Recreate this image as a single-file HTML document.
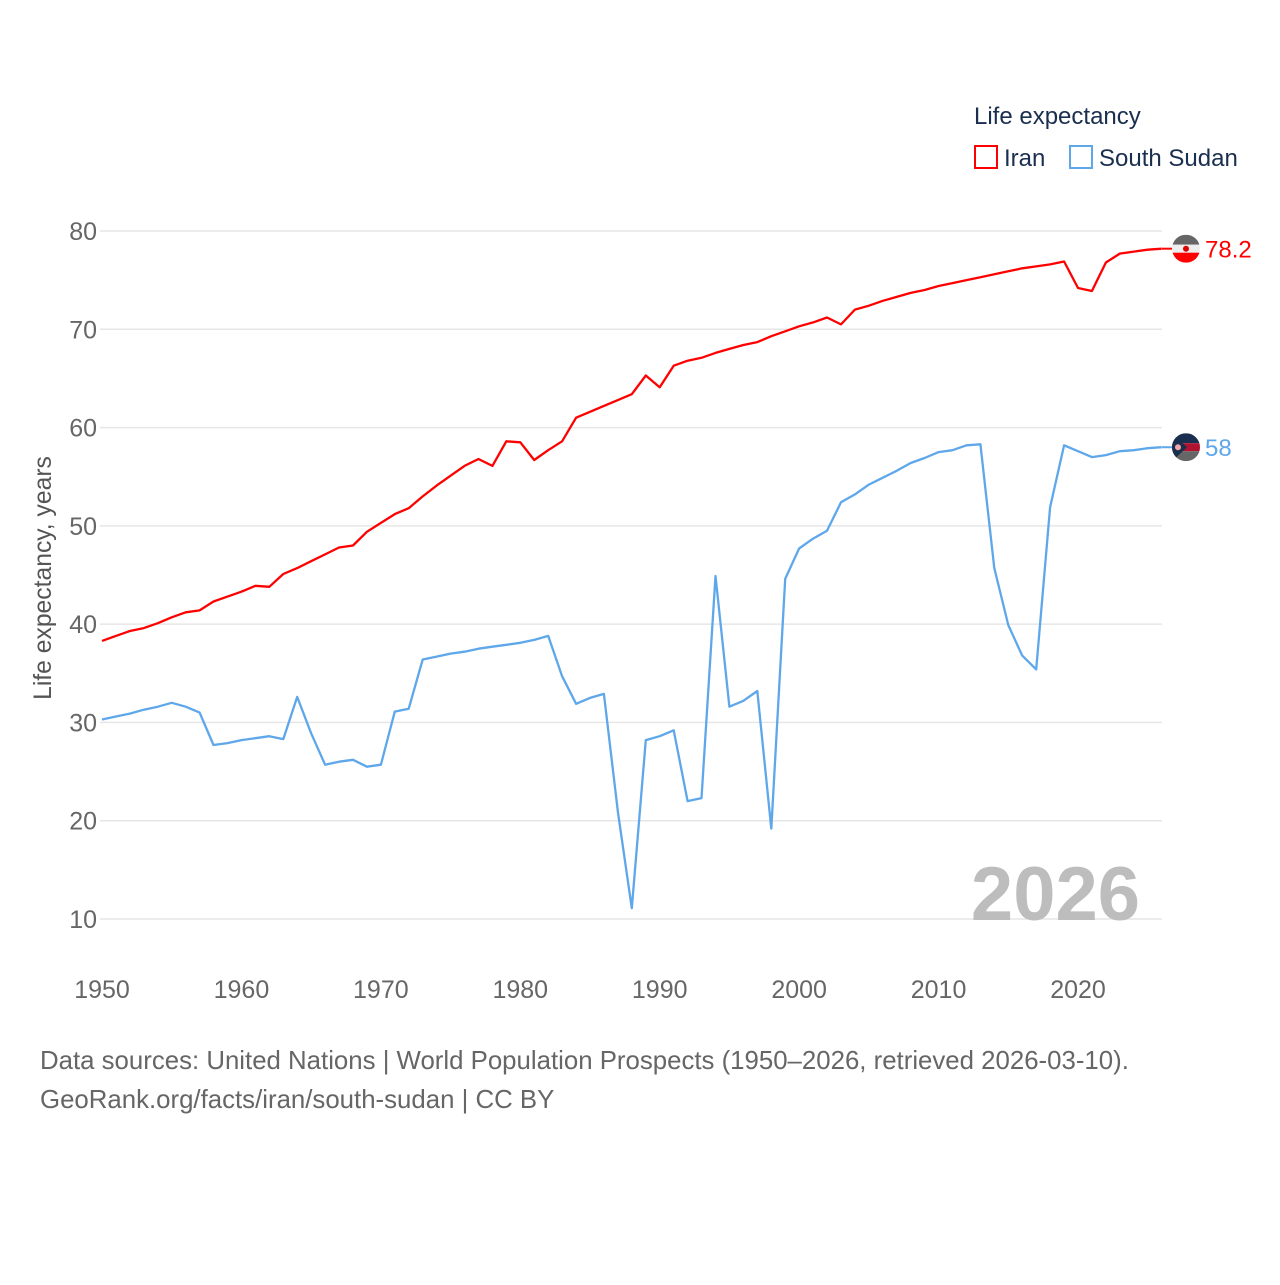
<!DOCTYPE html>
<html><head><meta charset="utf-8"><style>
html,body{margin:0;padding:0;background:#fff;}
body{width:1280px;height:1280px;overflow:hidden;font-family:"Liberation Sans",sans-serif;}
</style></head><body>
<svg id="chart" width="1280" height="1280" xmlns="http://www.w3.org/2000/svg" font-family="Liberation Sans, sans-serif">
<g id="grid"></g>
<g id="ticks"></g>
<text transform="translate(51,578) rotate(-90)" text-anchor="middle" font-size="24.7" fill="#555">Life expectancy, years</text>
<g id="lines"></g>
<text x="1140" y="920" text-anchor="end" font-size="76" font-weight="bold" fill="#bdbdbd">2026</text>
<g>
<text x="974" y="124" font-size="24" fill="#1a2e4f">Life expectancy</text>
<g><rect x="975" y="146" width="22" height="22" fill="none" stroke="#ff0000" stroke-width="2"/><text x="1004" y="166" font-size="24" fill="#1a2e4f">Iran</text></g>
<g><rect x="1070" y="146" width="22" height="22" fill="none" stroke="#5ea7ea" stroke-width="2"/><text x="1099" y="166" font-size="24" fill="#1a2e4f">South Sudan</text></g>
</g>
<g id="ends"></g>
<text x="40" y="1069" font-size="25.8" fill="#666">Data sources: United Nations | World Population Prospects (1950–2026, retrieved 2026-03-10).</text>
<text x="40" y="1108" font-size="25.8" fill="#666">GeoRank.org/facts/iran/south-sudan | CC BY</text>
</svg>
<script>
const startYear = 1950;
const yTicks = [10,20,30,40,50,60,70,80];
const xTicks = [1950,1960,1970,1980,1990,2000,2010,2020];
const iranValues = [38.3,38.8,39.3,39.6,40.1,40.7,41.2,41.4,42.3,42.8,43.3,43.9,43.8,45.1,45.7,46.4,47.1,47.8,48.0,49.4,50.3,51.2,51.8,53.0,54.1,55.1,56.1,56.8,56.1,58.6,58.5,56.7,57.7,58.6,61.0,61.6,62.2,62.8,63.4,65.3,64.1,66.3,66.8,67.1,67.6,68.0,68.4,68.7,69.3,69.8,70.3,70.7,71.2,70.5,72.0,72.4,72.9,73.3,73.7,74.0,74.4,74.7,75.0,75.3,75.6,75.9,76.2,76.4,76.6,76.9,74.2,73.9,76.8,77.7,77.9,78.1,78.2];
const sudanValues = [30.3,30.6,30.9,31.3,31.6,32.0,31.6,31.0,27.7,27.9,28.2,28.4,28.6,28.3,32.6,28.9,25.7,26.0,26.2,25.5,25.7,31.1,31.4,36.4,36.7,37.0,37.2,37.5,37.7,37.9,38.1,38.4,38.8,34.7,31.9,32.5,32.9,20.9,11.1,28.2,28.6,29.2,22.0,22.3,44.9,31.6,32.2,33.2,19.2,44.6,47.7,48.7,49.5,52.4,53.2,54.2,54.9,55.6,56.4,56.9,57.5,57.7,58.2,58.3,45.7,39.9,36.8,35.4,51.9,58.2,57.6,57.0,57.2,57.6,57.7,57.9,58.0];
const endLabels = ["78.2","58"];

const NS="http://www.w3.org/2000/svg";
const x = yr => 102 + (yr-1950)*(1078-102)/70;
const y = v => 231 + (80-v)*(919-231)/70;
function mk(tag, attrs, parent){const e=document.createElementNS(NS,tag);for(const k in attrs)e.setAttribute(k,attrs[k]);parent.appendChild(e);return e;}
const grid=document.getElementById('grid'), ticks=document.getElementById('ticks'), lines=document.getElementById('lines'), ends=document.getElementById('ends');
yTicks.forEach(v=>{
  const l=mk('line',{x1:100,x2:1162,y1:y(v),y2:y(v),stroke:'#e6e6e6','stroke-width':1.5},grid);
  
  
  const t=mk('text',{x:97,y:y(v)+9,'text-anchor':'end','font-size':25,fill:'#666'},ticks);
  t.textContent=v;
  
  
});
xTicks.forEach(yr=>{
  const t=mk('text',{x:x(yr),y:998,'text-anchor':'middle','font-size':25,fill:'#666'},ticks);
  t.textContent=yr;
  
  
});
function drawLine(vals,color,name){
  const pts=vals.map((v,i)=>x(startYear+i).toFixed(1)+','+y(v).toFixed(1)).join(' ');
  const p=mk('polyline',{points:pts,fill:'none',stroke:color,'stroke-width':2.3,'stroke-linejoin':'round'},lines);
  
  
}
drawLine(sudanValues,'#5ea7ea','south-sudan-line');
drawLine(iranValues,'#ff0000','iran-line');
function endMark(v,label,color,name,flag){
  const cx=1186, cy=y(v);
  const g=mk('g',{},ends);
  
  
  mk('line',{x1:1162,x2:1172,y1:cy,y2:cy,stroke:color,'stroke-width':2},g);
  const cp=mk('clipPath',{id:'c'+name},g);
  mk('circle',{cx:cx,cy:cy,r:14},cp);
  const f=mk('g',{'clip-path':'url(#c'+name+')'},g);
  if(flag==='iran'){
    mk('rect',{x:cx-14,y:cy-14,width:28,height:10,fill:'#666'},f);
    mk('rect',{x:cx-14,y:cy-4,width:28,height:8,fill:'#eee'},f);
    mk('rect',{x:cx-14,y:cy+4,width:28,height:10,fill:'#f00'},f);
    mk('circle',{cx:cx,cy:cy,r:3,fill:'#d00'},f);
  } else {
    mk('rect',{x:cx-14,y:cy-14,width:28,height:10,fill:'#1a2e4f'},f);
    mk('rect',{x:cx-14,y:cy-4,width:28,height:8,fill:'#b0132f'},f);
    mk('rect',{x:cx-14,y:cy+4,width:28,height:10,fill:'#666'},f);
    mk('polygon',{points:(cx-14)+','+(cy-14)+' '+(cx+1)+','+cy+' '+(cx-14)+','+(cy+14),fill:'#1a2e4f'},f);
    mk('circle',{cx:cx-8,cy:cy,r:3,fill:'#f4a6a6'},f);
  }
  const t=mk('text',{x:1205,y:cy+9,'font-size':24,fill:color},g);
  t.textContent=label;
}
endMark(iranValues[iranValues.length-1],endLabels[0],'#ff0000','iran-end-label','iran');
endMark(sudanValues[sudanValues.length-1],endLabels[1],'#5ea7ea','south-sudan-end-label','sudan');
</script>
</body></html>
